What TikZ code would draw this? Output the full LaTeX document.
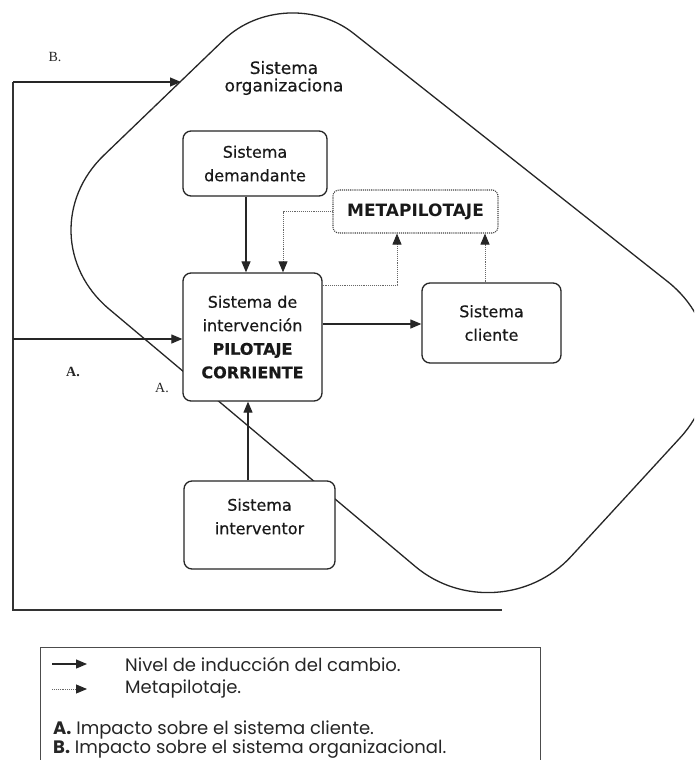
\documentclass[tikz,border=0pt]{standalone}
\usepackage{fontspec}
\setmainfont{DejaVu Sans}
\newfontfamily\boxfont{DejaVu Sans}[FakeBold=0.5]
\newfontfamily\legendfont{Poppins}
\newfontfamily\labelfont{Liberation Serif}
\usetikzlibrary{arrows.meta,calc}
\tikzset{
  sysbox/.style={draw=black!85, line width=1.3pt, rounded corners=8pt, fill=white, align=center, inner sep=0pt, text=black!90, font=\boxfont\fontsize{16}{23.5}\selectfont},
  systext/.style={align=center, inner sep=0pt, text=black!90, font=\boxfont\fontsize{16}{23.5}\selectfont},
  metabox/.style={draw=black!75, densely dotted, line width=1.1pt, rounded corners=6pt, fill=white, inner sep=0pt, text=black!90, font=\fontsize{17}{20}\selectfont\bfseries},
  flow/.style={draw=black!85, line width=1.2pt, -{Triangle[length=11pt,width=9pt]}},
  metaflow/.style={draw=black!60, densely dotted, line width=0.9pt, -{Triangle[length=11pt,width=9pt,color=black!85]}},
  orgline/.style={draw=black!85, line width=1.3pt},
  frame/.style={draw=black!80, line width=1.2pt},
  marklabel/.style={inner sep=0pt, text=black!85, font=\labelfont\fontsize{14}{16}\selectfont},
  legendtext/.style={inner sep=0pt, anchor=base west, text=black!85, font=\legendfont\fontsize{18}{20}\selectfont},
}
\begin{document}
\begin{tikzpicture}[x=1pt,y=-1pt]
\clip (0,0) rectangle (694,760);
\fill[white] (0,0) rectangle (694,760);
\coordinate (top) at (286,-20);
\coordinate (rgt) at (758,353);
\coordinate (bot) at (498,636);
\coordinate (lft) at (21,235);
\draw[orgline, rounded corners=86pt] ($(lft)!.5!(top)$) -- (top) -- ($(top)!.5!(rgt)$);
\draw[orgline, rounded corners=115pt] ($(top)!.5!(rgt)$) -- (rgt) -- ($(rgt)!.5!(bot)$);
\draw[orgline, rounded corners=108pt] ($(rgt)!.5!(bot)$) -- (bot) -- ($(bot)!.5!(lft)$);
\draw[orgline, rounded corners=115pt] ($(bot)!.5!(lft)$) -- (lft) -- ($(lft)!.5!(top)$);
\node[systext, font=\boxfont\fontsize{17}{17.5}\selectfont] (orgname) at (284,78) {Sistema\\organizaciona};

\node[sysbox, minimum width=144pt, minimum height=65pt] (demand) at (255,163.5) {Sistema\\demandante};
\node[sysbox, minimum width=139pt, minimum height=128pt] (intv) at (252.5,337) {Sistema de\\intervención\\\textbf{PILOTAJE}\\\textbf{CORRIENTE}};
\node[metabox, minimum width=165pt, minimum height=43pt] (meta) at (415.5,211.5) {METAPILOTAJE};
\node[sysbox, minimum width=139pt, minimum height=80pt] (client) at (491.5,323) {Sistema\\cliente};
\node[sysbox, minimum width=151pt, minimum height=88pt] (interv) at (259.5,525) {};
\node[systext, anchor=north] (intervtxt) at ([yshift=-18pt]interv.north) {Sistema\\interventor};

\coordinate (fTop) at (13,82);
\coordinate (fMid) at (13,339);
\coordinate (fBot) at (13,610);
\coordinate (fEnd) at (502,610);
\coordinate (orgIn) at (181,82);
\draw[frame] (fTop) -- (fBot) -- (fEnd);
\draw[flow] (fTop) -- (orgIn);
\draw[flow] (fMid) -- (intv.west |- fMid);

\coordinate (colA) at (246,0);
\coordinate (colB) at (283,0);
\coordinate (colC) at (397,0);
\coordinate (colD) at (485,0);
\coordinate (colF) at (248,0);
\coordinate (rowC) at (0,285);
\coordinate (rowE) at (0,324);
\draw[flow] (demand.south -| colA) -- (intv.north -| colA);
\draw[metaflow] (meta.west) -| (intv.north -| colB);
\draw[metaflow] (intv.east |- rowC) -| (meta.south -| colC);
\draw[metaflow] (client.north -| colD) -- (meta.south -| colD);
\draw[flow] (intv.east |- rowE) -- (client.west |- rowE);
\draw[flow] (interv.north -| colF) -- (intv.south -| colF);

\node[marklabel] (markB) at (55,57) {B.};
\node[marklabel] (markA) at (73,372) {\textbf{A.}};
\node[marklabel] (markAin) at (162,388) {A.};

\node[draw=black!70, line width=1pt, minimum width=500pt, minimum height=120pt, anchor=north west, inner sep=0pt] (legend) at (40,647) {};
\coordinate (keyFa) at (52,664);
\coordinate (keyFb) at (87,664);
\coordinate (keyMa) at (52,689);
\coordinate (keyMb) at (87,689);
\draw[flow] (keyFa) -- (keyFb);
\draw[metaflow] (keyMa) -- (keyMb);
\node[legendtext] (keyflow) at (125,671) {Nivel de inducción del cambio.};
\node[legendtext] (keymeta) at (125,693) {Metapilotaje.};
\node[legendtext] (keyA) at (53,734) {\textbf{A.} Impacto sobre el sistema cliente.};
\node[legendtext] (keyB) at (53,753) {\textbf{B.} Impacto sobre el sistema organizacional.};
\end{tikzpicture}
\end{document}
